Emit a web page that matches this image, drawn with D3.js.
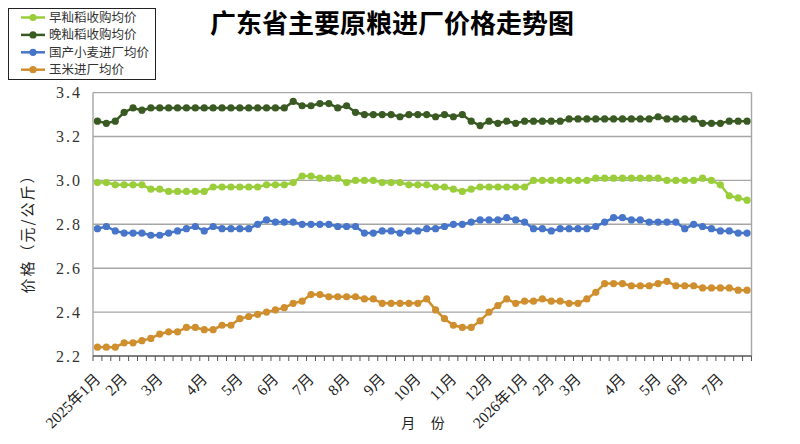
<!DOCTYPE html>
<html>
<head>
<meta charset="utf-8">
<script src="https://cdn.jsdelivr.net/npm/d3@7"></script>
<style>
  body { margin: 0; background: #fff; }
  svg { display: block; }
</style>
</head>
<body>
<div id="chart"></div>
<script>
// weekly prices, yuan per kg (74 observations)
const earlyIndica = [
  2.99, 2.99, 2.98, 2.98, 2.98, 2.98, 2.96, 2.96, 2.95, 2.95,
  2.95, 2.95, 2.95, 2.97, 2.97, 2.97, 2.97, 2.97, 2.97, 2.98,
  2.98, 2.98, 2.99, 3.02, 3.02, 3.01, 3.01, 3.01, 2.99, 3.00,
  3.00, 3.00, 2.99, 2.99, 2.99, 2.98, 2.98, 2.98, 2.97, 2.97,
  2.96, 2.95, 2.96, 2.97, 2.97, 2.97, 2.97, 2.97, 2.97, 3.00,
  3.00, 3.00, 3.00, 3.00, 3.00, 3.00, 3.01, 3.01, 3.01, 3.01,
  3.01, 3.01, 3.01, 3.01, 3.00, 3.00, 3.00, 3.00, 3.01, 3.00,
  2.98, 2.93, 2.92, 2.91
];
const lateIndica = [
  3.27, 3.26, 3.27, 3.31, 3.33, 3.32, 3.33, 3.33, 3.33, 3.33,
  3.33, 3.33, 3.33, 3.33, 3.33, 3.33, 3.33, 3.33, 3.33, 3.33,
  3.33, 3.33, 3.36, 3.34, 3.34, 3.35, 3.35, 3.33, 3.34, 3.31,
  3.30, 3.30, 3.30, 3.30, 3.29, 3.30, 3.30, 3.30, 3.29, 3.30,
  3.29, 3.30, 3.27, 3.25, 3.27, 3.26, 3.27, 3.26, 3.27, 3.27,
  3.27, 3.27, 3.27, 3.28, 3.28, 3.28, 3.28, 3.28, 3.28, 3.28,
  3.28, 3.28, 3.28, 3.29, 3.28, 3.28, 3.28, 3.28, 3.26, 3.26,
  3.26, 3.27, 3.27, 3.27
];
const wheat = [
  2.78, 2.79, 2.77, 2.76, 2.76, 2.76, 2.75, 2.75, 2.76, 2.77,
  2.78, 2.79, 2.77, 2.79, 2.78, 2.78, 2.78, 2.78, 2.80, 2.82,
  2.81, 2.81, 2.81, 2.80, 2.80, 2.80, 2.80, 2.79, 2.79, 2.79,
  2.76, 2.76, 2.77, 2.77, 2.76, 2.77, 2.77, 2.78, 2.78, 2.79,
  2.80, 2.80, 2.81, 2.82, 2.82, 2.82, 2.83, 2.82, 2.81, 2.78,
  2.78, 2.77, 2.78, 2.78, 2.78, 2.78, 2.79, 2.81, 2.83, 2.83,
  2.82, 2.82, 2.81, 2.81, 2.81, 2.81, 2.78, 2.80, 2.79, 2.78,
  2.77, 2.77, 2.76, 2.76
];
const corn = [
  2.24, 2.24, 2.24, 2.26, 2.26, 2.27, 2.28, 2.30, 2.31, 2.31,
  2.33, 2.33, 2.32, 2.32, 2.34, 2.34, 2.37, 2.38, 2.39, 2.40,
  2.41, 2.42, 2.44, 2.45, 2.48, 2.48, 2.47, 2.47, 2.47, 2.47,
  2.46, 2.46, 2.44, 2.44, 2.44, 2.44, 2.44, 2.46, 2.41, 2.37,
  2.34, 2.33, 2.33, 2.36, 2.40, 2.43, 2.46, 2.44, 2.45, 2.45,
  2.46, 2.45, 2.45, 2.44, 2.44, 2.46, 2.49, 2.53, 2.53, 2.53,
  2.52, 2.52, 2.52, 2.53, 2.54, 2.52, 2.52, 2.52, 2.51, 2.51,
  2.51, 2.51, 2.50, 2.50
];

// month labels and the week they sit on
const monthLabels = ["2025年1月", "2月", "3月", "4月", "5月", "6月", "7月", "8月", "9月",
  "10月", "11月", "12月", "2026年1月", "2月", "3月", "4月", "5月", "6月", "7月"];
const monthWeeks = [0, 3, 7, 12, 16, 20, 24, 28, 32, 36, 40, 44, 48, 51, 54, 59, 63, 66, 70];

const seriesNames = ["早籼稻收购均价", "晚籼稻收购均价", "国产小麦进厂均价", "玉米进厂均价"];
const seriesColors = ["#9acd3a", "#3a5a23", "#4675c9", "#d08f2e"];
const yTicks = [2.2, 2.4, 2.6, 2.8, 3.0, 3.2, 3.4];

const W = 800, H = 444;
const plot = {left: 93, right: 751.5, top: 92.6, bottom: 356};

let draw = () => {
    const series = [earlyIndica, lateIndica, wheat, corn];
    const weeks = d3.range(earlyIndica.length);

    const svg = d3.select("#chart").append("svg")
        .attr("width", W).attr("height", H)
        .attr("viewBox", [0, 0, W, H]);

    const x = d3.scaleBand().domain(weeks).range([plot.left, plot.right]).padding(0);
    const y = d3.scaleLinear().domain([2.2, 3.4]).range([plot.bottom, plot.top]);
    const cx = i => x(i) + x.bandwidth() / 2;

    // title
    svg.append("text")
        .attr("x", 392).attr("y", 33)
        .attr("text-anchor", "middle")
        .style("font-family", "'Noto Sans CJK SC'")
        .style("font-weight", 700)
        .style("font-size", "26px")
        .text("广东省主要原粮进厂价格走势图");

    // horizontal grid
    svg.append("g")
        .selectAll("line")
        .data(yTicks.slice(1))
        .join("line")
            .attr("x1", plot.left).attr("x2", plot.right)
            .attr("y1", d => y(d)).attr("y2", d => y(d))
            .attr("stroke", "#a6a6a6").attr("stroke-width", 1.4);

    // frame: left and right sides
    svg.append("line")
        .attr("x1", plot.left).attr("x2", plot.left)
        .attr("y1", plot.top).attr("y2", plot.bottom)
        .attr("stroke", "#a6a6a6").attr("stroke-width", 1.4);
    svg.append("line")
        .attr("x1", plot.right).attr("x2", plot.right)
        .attr("y1", plot.top).attr("y2", plot.bottom)
        .attr("stroke", "#a6a6a6").attr("stroke-width", 1.4);

    // y axis labels
    const yAxis = d3.axisLeft(y).tickValues(yTicks).tickSize(0).tickPadding(11)
        .tickFormat(d3.format(".1f"));
    const gy = svg.append("g")
        .attr("transform", `translate(${plot.left},0)`)
        .call(yAxis);
    gy.select(".domain").remove();
    gy.selectAll("text")
        .style("font-family", "'Liberation Serif', 'DejaVu Serif', serif")
        .style("font-size", "16px")
        .style("letter-spacing", "2px")
        .attr("fill", "#333");

    // bottom axis with a tick at every week boundary
    const gx = svg.append("g").attr("transform", `translate(0,${plot.bottom})`);
    gx.append("line")
        .attr("x1", plot.left).attr("x2", plot.right)
        .attr("stroke", "#555").attr("stroke-width", 1.4);
    gx.selectAll("line.tick")
        .data(weeks.concat([weeks.length]))
        .join("line")
            .attr("class", "tick")
            .attr("x1", d => d < weeks.length ? x(d) : plot.right)
            .attr("x2", d => d < weeks.length ? x(d) : plot.right)
            .attr("y1", 0).attr("y2", 5)
            .attr("stroke", "#555").attr("stroke-width", 1);

    gx.selectAll("text.month")
        .data(monthLabels)
        .join("text")
            .attr("class", "month")
            .attr("transform", (d, k) => `translate(${cx(monthWeeks[k]) + 4},24) rotate(-45)`)
            .attr("text-anchor", "end")
            .style("font-family", "'Liberation Serif', 'Noto Sans CJK SC', serif")
            .style("font-size", "15.5px")
            .attr("fill", "#222")
            .text(d => d);

    // axis titles
    svg.append("text")
        .attr("x", 423).attr("y", 428)
        .attr("text-anchor", "middle")
        .style("font-family", "'Noto Sans CJK SC'")
        .style("font-size", "14px")
        .attr("fill", "#222")
        .attr("xml:space", "preserve")
        .text("月     份");

    svg.append("text")
        .attr("transform", "translate(33,230) rotate(-90)")
        .attr("text-anchor", "middle")
        .style("font-family", "'Noto Sans CJK SC'")
        .style("font-size", "15px")
        .style("letter-spacing", "2px")
        .attr("fill", "#222")
        .text("价格（元/公斤）");

    // lines and markers
    const line = d3.line().x((d, i) => cx(i)).y(d => y(d));
    const gs = svg.append("g")
        .selectAll("g")
        .data(series)
        .join("g");
    gs.append("path")
        .attr("d", d => line(d))
        .attr("fill", "none")
        .attr("stroke", (d, k) => seriesColors[k])
        .attr("stroke-width", 2.5);
    gs.each(function(d, k) {
        d3.select(this).selectAll("circle")
            .data(d)
            .join("circle")
                .attr("cx", (v, i) => cx(i))
                .attr("cy", v => y(v))
                .attr("r", 3.6)
                .attr("fill", seriesColors[k]);
    });

    // legend
    const lg = svg.append("g");
    lg.append("rect")
        .attr("x", 8.5).attr("y", 8.5)
        .attr("width", 147).attr("height", 71)
        .attr("fill", "#fff").attr("stroke", "#222").attr("stroke-width", 1);
    const rows = lg.selectAll("g")
        .data(seriesNames)
        .join("g")
            .attr("transform", (d, k) => `translate(0,${17.5 + k * 17.4})`);
    rows.append("line")
        .attr("x1", 21).attr("x2", 45)
        .attr("stroke", (d, k) => seriesColors[k]).attr("stroke-width", 2.5);
    rows.append("circle")
        .attr("cx", 33).attr("r", 3.6)
        .attr("fill", (d, k) => seriesColors[k]);
    rows.append("text")
        .attr("x", 49).attr("dy", "0.36em")
        .style("font-family", "'Noto Sans CJK SC'")
        .style("font-size", "12.5px")
        .attr("fill", "#333")
        .text(d => d);
};

draw();
</script>
</body>
</html>
